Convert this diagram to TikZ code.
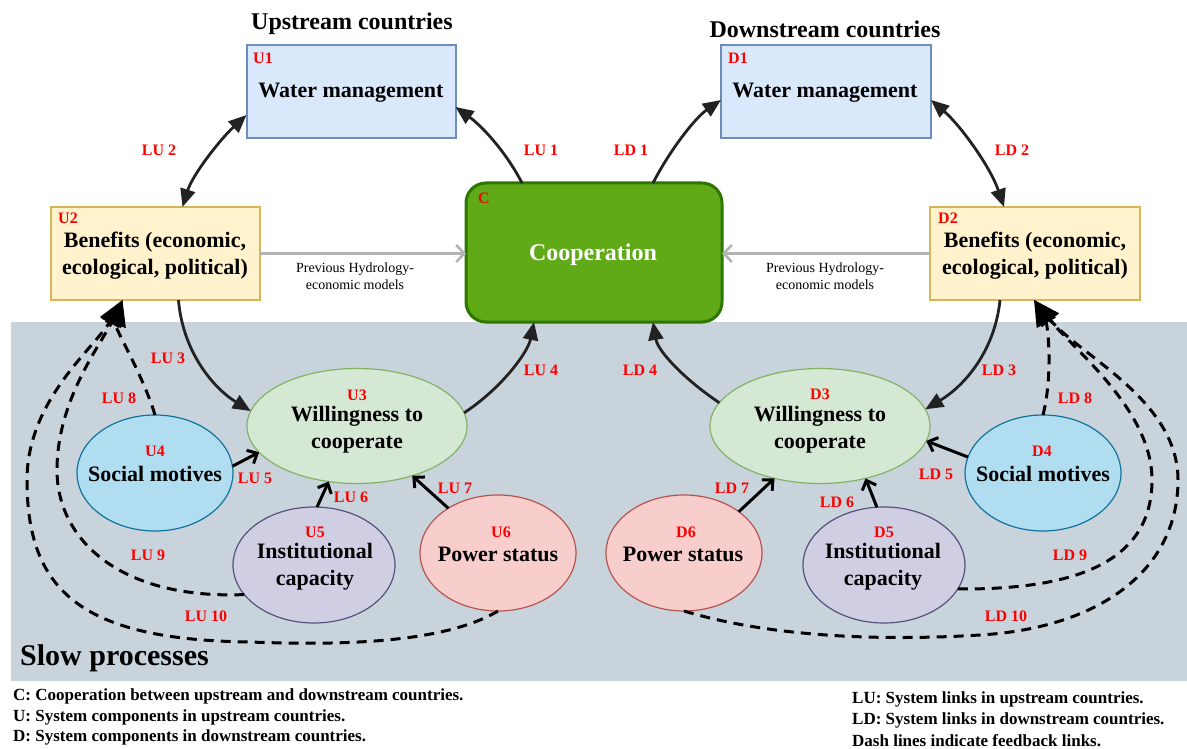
\documentclass[tikz,border=0pt]{standalone}
\usepackage{fontspec}
\setmainfont{Liberation Serif}
\usetikzlibrary{arrows.meta,shapes.geometric,calc}
\definecolor{slowbg}{RGB}{200,211,220}
\definecolor{bfill}{HTML}{DAE8FC}\definecolor{bline}{HTML}{6C8EBF}
\definecolor{yfill}{HTML}{FFF2CC}\definecolor{yline}{HTML}{D6B656}
\definecolor{gfill}{HTML}{60A917}\definecolor{gline}{HTML}{2D7600}
\definecolor{egfill}{HTML}{D5E8D4}\definecolor{egline}{HTML}{82B366}
\definecolor{ebfill}{HTML}{B1DDF0}\definecolor{ebline}{HTML}{10739E}
\definecolor{epfill}{HTML}{D0CEE2}\definecolor{epline}{HTML}{56517E}
\definecolor{erfill}{HTML}{F8CECC}\definecolor{erline}{HTML}{B85450}
\definecolor{prevgray}{HTML}{B3B3B3}
\definecolor{linkcol}{HTML}{222222}
\tikzset{
  shp/.style={outer sep=0pt, inner sep=0pt},
  bluebox/.style={shp, rectangle, fill=bfill, draw=bline, line width=2pt, minimum width=209pt, minimum height=93pt},
  yelbox/.style={shp, rectangle, fill=yfill, draw=yline, line width=2pt, minimum width=209pt, minimum height=93pt},
  coopbox/.style={shp, rectangle, rounded corners=20pt, fill=gfill, draw=gline, line width=3pt, minimum width=256pt, minimum height=139pt},
  ell/.style={shp, ellipse, line width=1.2pt},
  egreen/.style={ell, fill=egfill, draw=egline, minimum width=220pt, minimum height=115pt},
  eblue/.style={ell, fill=ebfill, draw=ebline, minimum width=156pt, minimum height=116pt},
  epurple/.style={ell, fill=epfill, draw=epline, minimum width=162pt, minimum height=116pt},
  ered/.style={ell, fill=erfill, draw=erline, minimum width=156pt, minimum height=116pt},
  maintext/.style={inner sep=0pt, align=center, font=\fontsize{22}{27}\selectfont\bfseries},
  idlab/.style={inner sep=0pt, text=red, font=\fontsize{16}{16}\selectfont\bfseries},
  titletext/.style={inner sep=0pt, font=\fontsize{24}{28}\selectfont\bfseries},
  legendtext/.style={inner sep=0pt, anchor=west, font=\fontsize{17}{20}\selectfont\bfseries},
  prevtext/.style={inner sep=0pt, align=center, font=\fontsize{14}{17}\selectfont},
  link/.style={draw=linkcol, line width=2.8pt, -{Triangle[length=18pt,width=15pt]}},
  dlink/.style={draw=linkcol, line width=2.8pt, {Triangle[length=18pt,width=15pt]}-{Triangle[length=18pt,width=15pt]}},
  slink/.style={draw=black, line width=3pt, -{Straight Barb[length=8pt,width=15pt]}},
  fblink/.style={draw=black, line width=3pt, dash pattern=on 10pt off 7pt, -{Triangle[length=26pt,width=21pt]}},
  prevlink/.style={draw=prevgray, line width=2.6pt, -{Straight Barb[length=8pt,width=17pt]}}
}
\begin{document}
\begin{tikzpicture}[x=1pt,y=-1pt]
\useasboundingbox (0,0) rectangle (1187,749);
\fill[white] (0,0) rectangle (1187,749);
% slow processes background
\fill[slowbg] (10.5,322) rectangle (1187,681);
\node[anchor=west, inner sep=0pt, font=\fontsize{30}{30}\selectfont\bfseries] (slow) at (20,658) {Slow processes};

% titles
\node[titletext] (tup) at (352,24) {Upstream countries};
\node[titletext] (tdown) at (825,29) {Downstream countries};

% boxes
\node[bluebox] (U1) at (351,91.5) {};
\node[bluebox, minimum width=210pt] (D1) at (826,91.5) {};
\node[yelbox] (U2) at (155,253.5) {};
\node[yelbox, minimum width=210pt] (D2) at (1035,253.5) {};
\node[coopbox] (C) at (594,252.5) {};

% ellipses
\node[egreen] (U3) at (357,426) {};
\node[egreen] (D3) at (820,426) {};
\node[eblue] (U4) at (155,473) {};
\node[eblue] (D4) at (1043,473) {};
\node[epurple] (U5) at (314,565) {};
\node[epurple] (D5) at (884,565) {};
\node[ered] (U6) at (498,553) {};
\node[ered] (D6) at (684,553) {};

% main texts
\node[maintext] (tU1) at (351,93) {Water management};
\node[maintext] (tD1) at (825,93) {Water management};
\node[maintext] (tU2) at (155,255.5) {Benefits (economic,\\ecological, political)};
\node[maintext] (tD2) at (1035,255.5) {Benefits (economic,\\ecological, political)};
\node[inner sep=0pt, text=white, font=\fontsize{24}{24}\selectfont\bfseries] (tC) at (593,255) {Cooperation};
\node[maintext] (tU3) at (357,429.5) {Willingness to\\cooperate};
\node[maintext] (tD3) at (820,429.5) {Willingness to\\cooperate};
\node[maintext] (tU4) at (155,474) {Social motives};
\node[maintext] (tD4) at (1043,474) {Social motives};
\node[maintext] (tU5) at (315,567) {Institutional\\capacity};
\node[maintext] (tD5) at (883,567) {Institutional\\capacity};
\node[maintext] (tU6) at (498,554) {Power status};
\node[maintext] (tD6) at (683,554) {Power status};

% ids
\node[idlab] (iU1) at (263,58) {U1};
\node[idlab] (iD1) at (738,58) {D1};
\node[idlab] (iU2) at (68,218) {U2};
\node[idlab] (iD2) at (948,218) {D2};
\node[idlab] (iC) at (484,198) {C};
\node[idlab] (iU3) at (357,395) {U3};
\node[idlab] (iD3) at (820,394) {D3};
\node[idlab] (iU4) at (155,451) {U4};
\node[idlab] (iD4) at (1042,451) {D4};
\node[idlab] (iU5) at (315,532) {U5};
\node[idlab] (iD5) at (884,532) {D5};
\node[idlab] (iU6) at (501,532) {U6};
\node[idlab] (iD6) at (686,532) {D6};

% previous models arrows
\draw[prevlink] (U2.east) -- (U2.east -| C.west);
\draw[prevlink] (D2.west) -- (D2.west -| C.east);
\node[prevtext] (pU) at (355,276.5) {Previous Hydrology-\\economic models};
\node[prevtext] (pD) at (825,276.5) {Previous Hydrology-\\economic models};

% fast links
\draw[link] ([xshift=56pt]C.north west) .. controls +(-17,-33) and +(25,18) .. ([yshift=31pt]U1.south east);
\draw[link] ([xshift=187pt]C.north west) .. controls +(17,-33) and +(-26,18) .. ([yshift=38pt]D1.south west);
\draw[dlink] ([yshift=23pt]U1.south west) .. controls +(-27,25) and +(10,-32) .. ([xshift=132pt]U2.north west);
\draw[dlink] ([yshift=38pt]D1.south east) .. controls +(29,25) and +(-14,-41) .. ([xshift=74pt]D2.north west);
\draw[link] ([xshift=128pt]U2.south west) .. controls +(4,50) and +(-39,-24) .. (U3.172);
\draw[link] ([xshift=70pt]D2.south west) .. controls +(-5,50) and +(40,-24) .. (D3.9);
\draw[link] (U3.7) .. controls +(38,-25) and +(-6,30) .. ([xshift=68pt]C.south west);
\draw[link] (D3.167) .. controls +(-33,-22) and +(5,30) .. ([xshift=187pt]C.south west);

% short links
\draw[slink] (U4.5) -- (U3.195);
\draw[slink] (U5.87) -- (U3.243);
\draw[slink] (U6.138) -- (U3.318);
\draw[slink] (D4.168) -- (D3.352);
\draw[slink] (D5.97) -- (D3.311);
\draw[slink] (D6.37) -- (D3.229);

% feedback links
\coordinate (TU) at ([xshift=72pt]U2.south west);
\coordinate (TD) at ([xshift=104pt]D2.south west);
\coordinate (u9) at (57,470);
\coordinate (u10a) at (250,642);
\coordinate (u10b) at (27,480);
\coordinate (d9) at (1152,480);
\coordinate (d10a) at (980,635);
\coordinate (d10b) at (1178,480);
\draw[fblink] (U4.north) .. controls +(-12,-40) and +(-8,28) .. (TU);
\draw[fblink] (U5.203) .. controls +(-124,5) and +(0,70) .. (u9) .. controls +(0,-70) and +(-22,45) .. (TU);
\draw[fblink] (U6.south) .. controls +(-57,34) and +(80,3) .. (u10a) .. controls +(-170,-2) and +(0,110) .. (u10b) .. controls +(0,-80) and +(-28,48) .. (TU);
\draw[fblink] (D4.north) .. controls +(10,-40) and +(14,26) .. (TD);
\draw[fblink] (D5.342) .. controls +(122,1) and +(0,80) .. (d9) .. controls +(0,-70) and +(40,50) .. (TD);
\draw[fblink] (D6.south) .. controls +(96,29) and +(-80,5) .. (d10a) .. controls +(120,-7) and +(0,90) .. (d10b) .. controls +(0,-80) and +(46,56) .. (TD);

% link labels
\node[idlab] (lLU1) at (541,150) {LU 1};
\node[idlab] (lLU2) at (159,150) {LU 2};
\node[idlab] (lLD1) at (631,150) {LD 1};
\node[idlab] (lLD2) at (1012,150) {LD 2};
\node[idlab] (lLU3) at (168,358) {LU 3};
\node[idlab] (lLU4) at (541,370) {LU 4};
\node[idlab] (lLD4) at (640,370) {LD 4};
\node[idlab] (lLD3) at (999,370) {LD 3};
\node[idlab] (lLU8) at (119,398) {LU 8};
\node[idlab] (lLD8) at (1075,398) {LD 8};
\node[idlab] (lLU5) at (255,478) {LU 5};
\node[idlab] (lLU6) at (351,497) {LU 6};
\node[idlab] (lLU7) at (455,488) {LU 7};
\node[idlab] (lLD5) at (936,474) {LD 5};
\node[idlab] (lLD6) at (837,502) {LD 6};
\node[idlab] (lLD7) at (732,488) {LD 7};
\node[idlab] (lLU9) at (148,555) {LU 9};
\node[idlab] (lLD9) at (1070,555) {LD 9};
\node[idlab] (lLU10) at (206,616) {LU 10};
\node[idlab] (lLD10) at (1006,616) {LD 10};

% legend
\node[legendtext] (lg1) at (13,696) {C: Cooperation between upstream and downstream countries.};
\node[legendtext] (lg2) at (13,717) {U: System components in upstream countries.};
\node[legendtext] (lg3) at (13,737) {D: System components in downstream countries.};
\node[legendtext] (lg4) at (852,699) {LU: System links in upstream countries.};
\node[legendtext] (lg5) at (852,720) {LD: System links in downstream countries.};
\node[legendtext] (lg6) at (852,741) {Dash lines indicate feedback links.};
\end{tikzpicture}
\end{document}
